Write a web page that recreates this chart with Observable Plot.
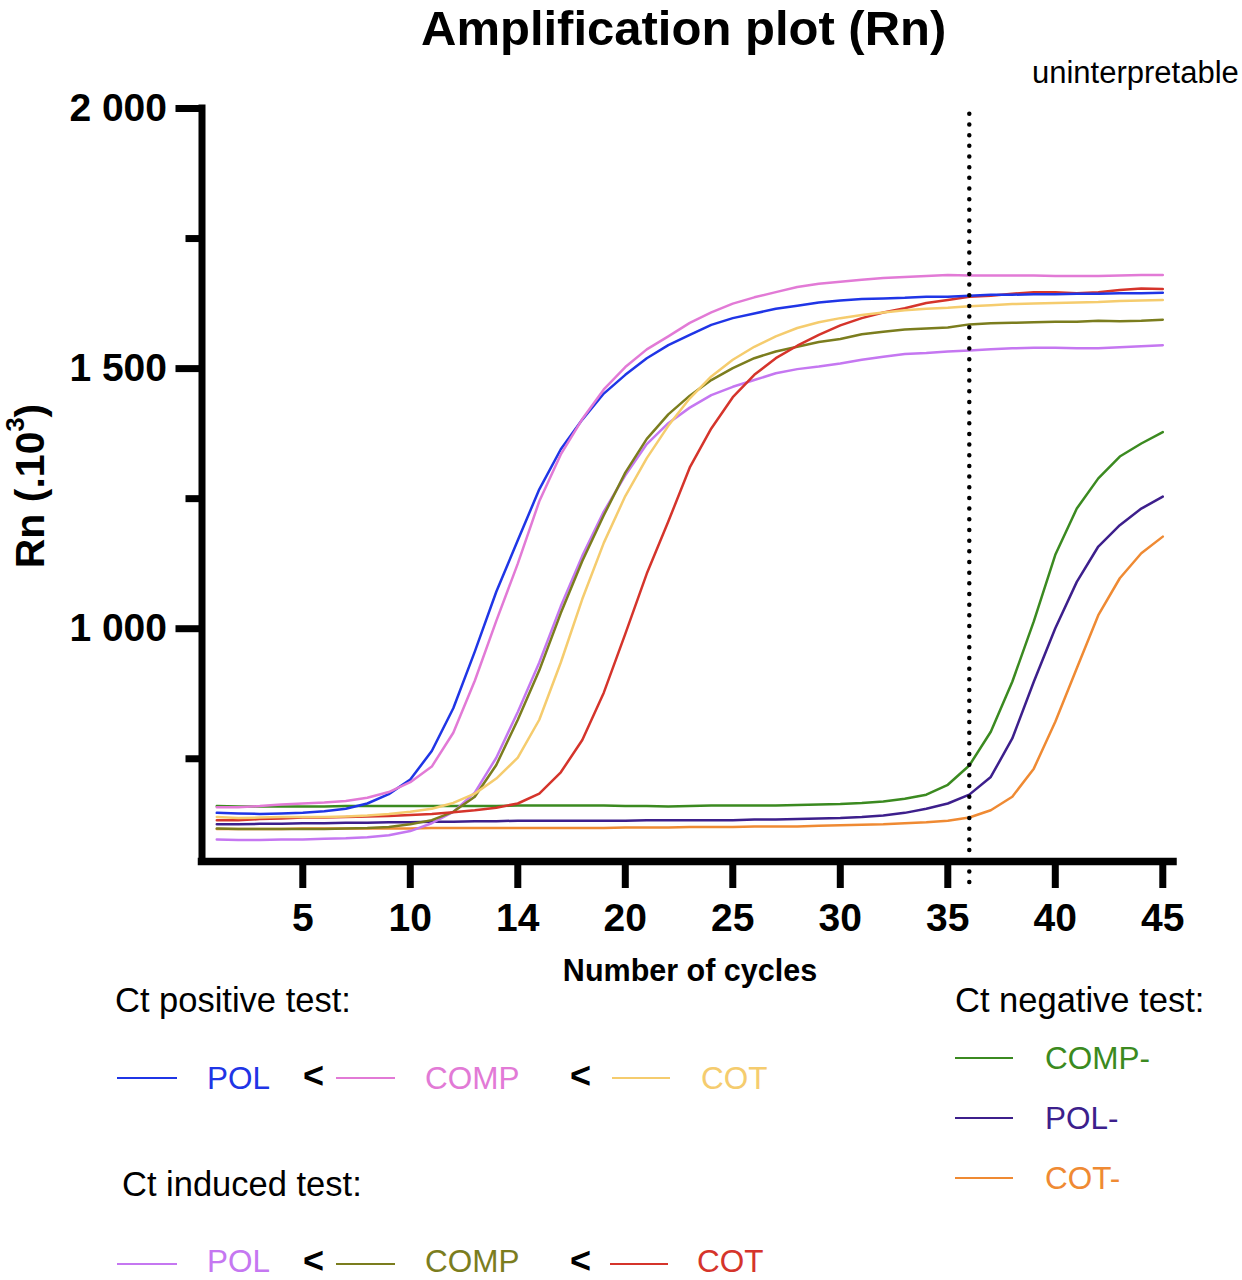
<!DOCTYPE html>
<html><head><meta charset="utf-8">
<script src="https://cdn.jsdelivr.net/npm/d3@7"></script>
<script src="https://cdn.jsdelivr.net/npm/@observablehq/plot@0.6"></script>
<style>
html,body{margin:0;padding:0;background:#fff;}
#page{position:relative;width:1242px;height:1280px;overflow:hidden;font-family:"Liberation Sans",Arial,Helvetica,sans-serif;color:#000;}
#chart{position:absolute;left:0;top:0;}
.t{position:absolute;line-height:0;white-space:nowrap;}
.sw{position:absolute;height:0;border-top-style:solid;border-top-width:2.5px;}
g[aria-label="x-axis tick label"], g[aria-label="y-axis tick label"]{font-weight:700;}
</style></head><body><div id="page"><div id="chart"></div></div>
<script>
// ---------- data ----------
const cycles = [1,2,3,4,5,6,7,8,9,10,11,12,13,14,15,16,17,18,19,20,21,22,23,24,25,26,27,28,29,30,31,32,33,34,35,36,37,38,39,40,41,42,43,44,45];

// Ct positive test
const posPOL  = [646,645,644,645,646,649,654,664,682,710, 765,847,956,1071,1170,1268,1345,1402,1452,1488, 1520,1545,1565,1584,1597,1606,1615,1621,1627,1631, 1634,1635,1636,1638,1638,1640,1642,1642,1643,1643, 1644,1644,1645,1645,1646];
const posCOMP = [657,657,659,662,664,666,669,675,686,705, 735,800,900,1015,1125,1245,1335,1403,1460,1503, 1537,1562,1588,1608,1625,1637,1647,1657,1663,1667, 1671,1674,1676,1678,1680,1679,1679,1679,1679,1678, 1678,1678,1679,1680,1680];
const posCOT  = [638,636,637,638,638,638,639,641,644,648, 654,665,683,712,752,825,935,1057,1165,1255, 1328,1390,1443,1485,1517,1542,1562,1578,1589,1597, 1603,1608,1612,1615,1617,1620,1622,1624,1625,1626, 1627,1628,1630,1631,1632];
// Ct induced test
const indPOL  = [595,594,594,595,595,596,597,599,603,611, 626,648,685,752,840,935,1043,1140,1225,1295, 1355,1395,1425,1449,1465,1478,1491,1499,1504,1510, 1517,1523,1528,1530,1533,1535,1537,1539,1540,1540, 1539,1539,1541,1543,1545];
const indCOMP = [616,615,615,615,615,615,616,617,619,624, 632,648,677,738,825,920,1030,1130,1218,1300, 1365,1412,1448,1478,1501,1520,1533,1542,1551,1557, 1566,1571,1575,1577,1579,1585,1587,1588,1589,1590, 1590,1592,1591,1592,1594];
const indCOT  = [632,632,634,635,637,637,638,639,640,642, 644,647,651,656,664,683,724,786,877,990, 1106,1206,1310,1385,1445,1488,1520,1544,1565,1583, 1597,1608,1616,1626,1632,1638,1640,1644,1647,1647, 1645,1647,1651,1654,1653];
// Ct negative test
const negCOMP = [659,658,658,658,658,658,659,659,659,659, 659,659,659,659,660,660,660,660,660,659, 659,658,659,660,660,660,660,661,662,663, 665,668,673,681,700,737,802,898,1014,1142, 1231,1289,1331,1356,1378];
const negPOL  = [624,624,625,625,626,626,627,627,628,628, 629,629,630,630,631,631,631,631,631,631, 632,632,632,632,632,633,633,634,635,636, 638,641,646,654,664,681,715,789,898,1001, 1090,1158,1199,1231,1254];
const negCOT  = [615,615,615,615,616,616,616,616,616,616, 617,617,617,617,617,617,617,617,617,618, 618,618,619,619,619,620,620,620,621,622, 623,624,626,628,631,637,651,677,731,821, 924,1026,1097,1145,1177];

const seriesNames  = ["COMP-","POL-","COT-","POL induced","COMP induced","COT induced","POL","COMP","COT"];
const seriesValues = [negCOMP, negPOL, negCOT, indPOL, indCOMP, indCOT, posPOL, posCOMP, posCOT];

const xTicks = [5,10,15,20,25,30,35,40,45];
const xTickLabels = ["5","10","14","20","25","30","35","40","45"];
const yTicks = [1000,1500,2000];
const yTickLabels = ["1 000","1 500","2 000"];
const yMinorTicks = [750,1250,1750];
const cutoffCycle = 36;

// ---------- styles ----------
const seriesColors = ["#3b8a20","#3d1f8c","#ef8a33","#c577f1","#7b7d1e","#d5342b","#1f35e6","#e27ad6","#f5cc6e"];

// ---------- build table ----------
const rows = seriesNames.flatMap((name, s) => seriesValues[s].map((v, i) => ({cycle: cycles[i], rn: v, series: name})));

const xDomain = [0.312, 45.498];
const yDomain = [552.5, 2000];

const chart = Plot.plot({
  width: 1242, height: 1000,
  marginLeft: 201.5, marginRight: 69, marginTop: 108, marginBottom: 139,
  style: {fontFamily: '"Liberation Sans", Arial, Helvetica, sans-serif', background: "transparent", color: "#000"},
  x: {domain: xDomain},
  y: {domain: yDomain},
  color: {domain: seriesNames, range: seriesColors},
  marks: [
    Plot.line(rows, {x: "cycle", y: "rn", z: "series", stroke: "series", strokeWidth: 2.5, strokeLinejoin: "round"}),
    Plot.ruleX([cutoffCycle], {y1: 512, y2: 1990, stroke: "#000", strokeWidth: 4.5, strokeDasharray: "0,10.67", strokeLinecap: "round"}),
    Plot.ruleY([yDomain[0]], {stroke: "#000", strokeWidth: 7.5, strokeLinecap: "square"}),
    Plot.ruleX([xDomain[0]], {stroke: "#000", strokeWidth: 7, strokeLinecap: "square"}),
    Plot.axisY({ticks: yTicks, tickSize: 26, tickPadding: 9, strokeWidth: 7, fontSize: 39, fontWeight: "bold",
      tickFormat: d => yTickLabels[yTicks.indexOf(d)], label: null}),
    Plot.axisY({ticks: yMinorTicks, tickSize: 16, strokeWidth: 7, tickFormat: () => "", label: null}),
    Plot.axisX({ticks: xTicks, tickSize: 27, tickPadding: 15, strokeWidth: 7, fontSize: 39, fontWeight: "bold",
      tickFormat: d => xTickLabels[xTicks.indexOf(d)], label: null})
  ]
});
document.getElementById("chart").appendChild(chart);

// ---------- text & legend ----------
const page = document.getElementById("page");
function txt(html, x, yc, size, opts = {}) {
  const d = document.createElement("div");
  d.className = "t";
  d.innerHTML = html;
  d.style.left = x + "px";
  d.style.top = yc + "px";
  d.style.fontSize = size + "px";
  if (opts.bold) d.style.fontWeight = "700";
  if (opts.color) d.style.color = opts.color;
  if (opts.center) d.style.transform = "translateX(-50%)";
  page.appendChild(d);
  return d;
}
function swatch(x1, x2, yc, color) {
  const d = document.createElement("div");
  d.className = "sw";
  d.style.left = x1 + "px";
  d.style.width = (x2 - x1) + "px";
  d.style.top = (yc - 1.25) + "px";
  d.style.borderTopColor = color;
  page.appendChild(d);
}
const col = name => seriesColors[seriesNames.indexOf(name)];

txt("Amplification plot (Rn)", 421, 27.5, 49, {bold: true});
txt("uninterpretable", 1032, 73, 31);
txt("Number of cycles", 690, 970, 30.5, {bold: true, center: true});

// y-axis title (rotated)
const yl = document.createElement("div");
yl.innerHTML = 'Rn (.10<sup style="font-size:0.62em;vertical-align:0.75em;line-height:0">3</sup>)';
Object.assign(yl.style, {position: "absolute", left: "30px", top: "486px", fontSize: "41px", fontWeight: "700",
  lineHeight: "1", whiteSpace: "nowrap", transform: "translate(-50%,-50%) rotate(-90deg)"});
page.appendChild(yl);

// legend groups
const legendPositive = ["POL","COMP","COT"];
const legendInduced = ["POL induced","COMP induced","COT induced"];
const legendNegative = ["COMP-","POL-","COT-"];
const legendLabel = name => name.replace(" induced", "");

txt("Ct positive test:", 115, 1000, 34.5);
txt("Ct induced test:", 122, 1184, 34.5);
txt("Ct negative test:", 955, 1000, 34.5);

const row1Y = 1078, row2Y = 1261;
const rowSw = [[117,177],[336,395],[612,670]];
const rowTx = [207,425,701];
legendPositive.forEach((n, i) => { swatch(rowSw[i][0], rowSw[i][1], row1Y, col(n)); txt(legendLabel(n), rowTx[i], row1Y, 31.5, {color: col(n)}); });
txt("&lt;", 303, row1Y - 2, 36, {bold: true}); txt("&lt;", 570, row1Y - 2, 36, {bold: true});
const rowSw2 = [[117,177],[336,395],[610,668]];
const rowTx2 = [207,425,697];
legendInduced.forEach((n, i) => { swatch(rowSw2[i][0], rowSw2[i][1], row2Y + 3, col(n)); txt(legendLabel(n), rowTx2[i], row2Y, 31.5, {color: col(n)}); });
txt("&lt;", 303, row2Y, 36, {bold: true}); txt("&lt;", 570, row2Y, 36, {bold: true});
const negY = [1058,1118,1178];
legendNegative.forEach((n, i) => { swatch(955, 1013, negY[i], col(n)); txt(n, 1045, negY[i], 31.5, {color: col(n)}); });
</script></body></html>
